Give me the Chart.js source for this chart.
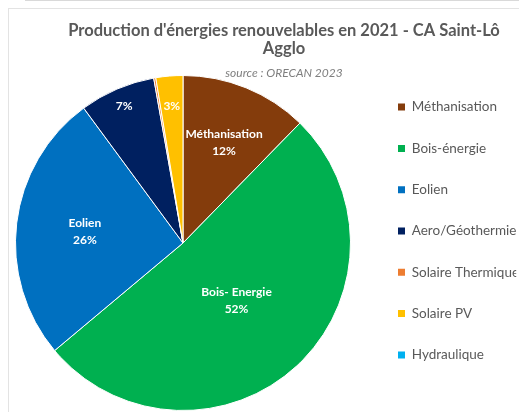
<!DOCTYPE html>
<html>
<head>
<meta charset="utf-8">
<script src="https://cdn.jsdelivr.net/npm/chart.js@4/dist/chart.umd.min.js"></script>
<style>
  html, body { margin: 0; padding: 0; background: #ffffff; overflow: hidden; width: 519px; height: 412px; }
  #topline { position: absolute; left: 25px; top: 0; width: 494px; height: 1px; background: #d9d9d9; }
  #frame { position: absolute; left: 8px; top: 8px; width: 560px; height: 420px; border-left: 1px solid #e3e3e3; border-top: 1px solid #e3e3e3; }
  #wrap { position: absolute; left: 0; top: 0; width: 519px; height: 420px; }
</style>
</head>
<body>
<div id="topline"></div>
<div id="frame"></div>
<div id="wrap"><canvas id="c"></canvas></div>
<script>
// ---- data ----
const categories = ['Méthanisation', 'Bois-énergie', 'Eolien', 'Aero/Géothermie', 'Solaire Thermique', 'Solaire PV', 'Hydraulique'];
const shares = [12.3, 51.6, 26.0, 7.3, 0.2, 2.6, 0.0];
const sliceNames = ['Méthanisation', 'Bois- Energie', 'Eolien', null, null, null, null];
const slicePct = [true, true, true, true, false, true, false];
const titleLines = ["Production d'énergies renouvelables en 2021 - CA Saint-Lô", 'Agglo'];
const subtitleText = 'source : ORECAN 2023';

// ---- styles ----
const colors = ['#843C0C', '#00B050', '#0070C0', '#002060', '#ED7D31', '#FFC000', '#00B0F0'];
const labelRadius = [0.65, 0.47, 0.59, 0.89, 0, 0.82, 0];
const FONT = 'Lato, "Open Sans", sans-serif';
const TITLE_CENTER = 284;
const LEGEND_BOX_X = 398;
const LEGEND_MID_Y = 231;
const LEGEND_FONT = 13.5;
const LEGEND_PAD = 41.3 - LEGEND_FONT;

const placement = {
  id: 'placement',
  afterLayout(chart) {
    const shift = (b, dx, dy) => { b.left += dx; b.right += dx; b.top += dy; b.bottom += dy; };
    const tb = chart.titleBlock;
    chart.boxes.forEach(b => {
      if (tb && b.constructor === tb.constructor) {
        shift(b, TITLE_CENTER - (b.left + b.right) / 2, 0);
      }
    });
    const lg = chart.legend;
    shift(lg, (LEGEND_BOX_X - LEGEND_PAD) - lg.left, LEGEND_MID_Y - (lg.top + lg.bottom) / 2);
  }
};

const sliceLabels = {
  id: 'sliceLabels',
  afterDatasetsDraw(chart) {
    const ctx = chart.ctx;
    const meta = chart.getDatasetMeta(0);
    const vals = chart.data.datasets[0].data;
    const total = vals.reduce((a, b) => a + b, 0);
    ctx.save();
    ctx.fillStyle = '#ffffff';
    ctx.font = 'bold 12px ' + FONT;
    ctx.textAlign = 'center';
    ctx.textBaseline = 'middle';
    meta.data.forEach((arc, i) => {
      const name = sliceNames[i];
      const pct = slicePct[i] ? Math.round(vals[i] / total * 100) + '%' : null;
      if (!name && !pct) return;
      const p = arc.getProps(['x', 'y', 'startAngle', 'endAngle', 'outerRadius'], true);
      const mid = (p.startAngle + p.endAngle) / 2;
      const r = p.outerRadius * labelRadius[i];
      const cx = p.x + Math.cos(mid) * r;
      const cy = p.y + Math.sin(mid) * r;
      if (name && pct) {
        ctx.fillText(name, cx, cy - 8.5);
        ctx.fillText(pct, cx, cy + 8.5);
      } else {
        ctx.fillText(name || pct, cx, cy);
      }
    });
    ctx.restore();
  }
};

new Chart(document.getElementById('c'), {
  type: 'pie',
  data: {
    labels: categories,
    datasets: [{
      data: shares,
      backgroundColor: colors,
      borderColor: '#ffffff',
      borderWidth: 1,
      hoverOffset: 0,
      offset: 0
    }]
  },
  plugins: [placement, sliceLabels],
  options: {
    responsive: true,
    maintainAspectRatio: false,
    animation: false,
    layout: { padding: { left: 15, right: 22, top: 0, bottom: 9 } },
    plugins: {
      title: {
        display: true,
        text: titleLines,
        color: '#595959',
        font: { family: FONT, size: 16.5, weight: 'bold', lineHeight: 18 / 16.5 },
        padding: { top: 22, bottom: 0 }
      },
      subtitle: {
        display: true,
        text: subtitleText,
        color: '#7f7f7f',
        font: { family: FONT, size: 12, style: 'italic', lineHeight: 14 / 12 },
        padding: { top: 8, bottom: -5 }
      },
      legend: {
        position: 'right',
        maxWidth: 146,
        labels: {
          color: '#595959',
          font: { family: FONT, size: LEGEND_FONT },
          boxWidth: 7,
          boxHeight: 7,
          padding: LEGEND_PAD,
          generateLabels(chart) {
            const items = Chart.overrides.pie.plugins.legend.labels.generateLabels(chart);
            items.forEach(it => { it.lineWidth = 0; it.strokeStyle = 'rgba(0,0,0,0)'; });
            return items;
          }
        }
      },
      tooltip: { enabled: false }
    }
  }
});
</script>
</body>
</html>
